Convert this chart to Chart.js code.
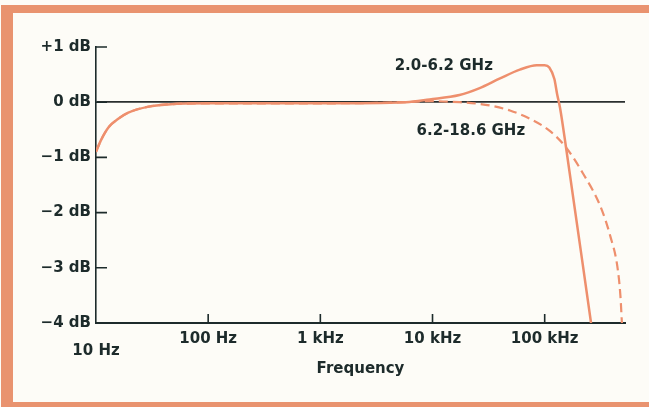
<!DOCTYPE html>
<html>
<head>
<meta charset="utf-8">
<title>Frequency response</title>
<script src="https://cdn.jsdelivr.net/npm/chart.js@4.4.1/dist/chart.umd.min.js"></script>
<style>
  html, body { margin: 0; padding: 0; background: #fdfcf7; overflow: hidden; }
  body { width: 649px; height: 407px; position: relative; }
  .frame {
    position: absolute; left: 1px; top: 5px; width: 700px; height: 389px;
    border-left: 12px solid #e9936f; border-top: 8px solid #e9936f; border-bottom: 5px solid #e9936f;
  }
  #chart { position: absolute; left: 0; top: 0; }
</style>
</head>
<body>
<div class="frame"></div>
<canvas id="chart" width="649" height="407"></canvas>
<script>
// ==================== DATA ====================
// frequency in Hz, gain in dB
const freqSolid = [10, 11, 13, 15.8, 19.4, 29.5, 44, 100, 1000, 5800, 9400, 17400, 26000, 40000, 60000, 85000, 100000, 110000, 122000, 129000, 137000, 155000, 259000];
const gainSolid = [-0.9, -0.7, -0.45, -0.3, -0.19, -0.08, -0.04, -0.02, -0.02, 0, 0.05, 0.13, 0.25, 0.43, 0.59, 0.67, 0.67, 0.63, 0.42, 0.15, -0.1, -0.82, -4];

const freqDashed = [10, 11, 13, 15.8, 19.4, 29.5, 44, 100, 1000, 5800, 9400, 17400, 26000, 32600, 49000, 74000, 111000, 155000, 221000, 313000, 385000, 444000, 473000, 488000];
const gainDashed = [-0.9, -0.7, -0.45, -0.3, -0.19, -0.08, -0.04, -0.02, -0.02, 0, 0.02, 0, -0.03, -0.06, -0.15, -0.3, -0.52, -0.82, -1.3, -1.88, -2.43, -2.97, -3.5, -4];

const seriesNames = ['2.0-6.2 GHz', '6.2-18.6 GHz'];

const xTicks = [10, 100, 1000, 10000, 100000];
const xTickLabels = ['10 Hz', '100 Hz', '1 kHz', '10 kHz', '100 kHz'];
const yTicks = [1, 0, -1, -2, -3, -4];
const yTickLabels = ['+1 dB', '0 dB', '\u22121 dB', '\u22122 dB', '\u22123 dB', '\u22124 dB'];

const ink = '#1d2b2b';
const curve = '#ee8f6d';
const labelFont = { family: '"DejaVu Sans", sans-serif', size: 15, weight: 'bold' };

// inner tick marks + curve labels
const decorations = {
  id: 'decorations',
  afterDraw(chart) {
    const { ctx, chartArea, scales } = chart;
    const x = scales.x, y = scales.y;
    ctx.save();
    ctx.strokeStyle = ink;
    ctx.lineWidth = 1.6;
    ctx.beginPath();
    yTicks.forEach(v => {
      if (v === -4) return;
      const py = y.getPixelForValue(v);
      ctx.moveTo(chartArea.left, py);
      ctx.lineTo(chartArea.left + 11, py);
    });
    xTicks.forEach(v => {
      if (v === 10) return;
      const px = x.getPixelForValue(v);
      ctx.moveTo(px, chartArea.bottom);
      ctx.lineTo(px, chartArea.bottom - 9);
    });
    ctx.stroke();

    // curve labels
    ctx.fillStyle = ink;
    ctx.font = 'bold 15px "DejaVu Sans", sans-serif';
    ctx.textAlign = 'left';
    ctx.textBaseline = 'middle';
    ctx.fillText(seriesNames[0], x.getPixelForValue(4600), y.getPixelForValue(0.65));
    ctx.fillText(seriesNames[1], x.getPixelForValue(7200), y.getPixelForValue(-0.53));
    ctx.restore();
  }
};

new Chart(document.getElementById('chart'), {
  type: 'line',
  data: {
    datasets: [
      {
        label: seriesNames[0],
        data: freqSolid.map((f, i) => ({ x: f, y: gainSolid[i] })),
        borderColor: curve,
        borderWidth: 2.5,
        pointRadius: 0,
        cubicInterpolationMode: 'monotone',
        fill: false
      },
      {
        label: seriesNames[1],
        data: freqDashed.map((f, i) => ({ x: f, y: gainDashed[i] })),
        borderColor: curve,
        borderWidth: 2.2,
        borderDash: [9, 5],
        pointRadius: 0,
        cubicInterpolationMode: 'monotone',
        fill: false
      }
    ]
  },
  options: {
    responsive: false,
    animation: false,
    devicePixelRatio: 1,
    layout: { padding: { left: 0, top: 47, right: 24, bottom: 29 } },
    plugins: { legend: { display: false }, tooltip: { enabled: false } },
    scales: {
      x: {
        type: 'logarithmic',
        min: 10,
        max: 520000,
        afterBuildTicks: s => { s.ticks = xTicks.map(v => ({ value: v })); },
        afterFit: s => { s.height = 55; },
        grid: { display: false },
        border: { display: true, color: ink, width: 2 },
        ticks: {
          color: ink,
          font: { ...labelFont, lineHeight: 0.82 },
          padding: 2,
          maxRotation: 0,
          autoSkip: false,
          callback: (v) => {
            const i = xTicks.indexOf(v);
            if (i < 0) return '';
            return v === 10 ? ['', xTickLabels[i]] : xTickLabels[i];
          }
        },
        title: { display: true, text: 'Frequency', color: ink, font: labelFont, padding: { top: 4, bottom: 0 } }
      },
      y: {
        min: -4,
        max: 1,
        afterBuildTicks: s => { s.ticks = yTicks.map(v => ({ value: v })); },
        afterFit: s => { s.width = 96; },
        grid: {
          drawTicks: false,
          color: c => c.tick && c.tick.value === 0 ? '#2a2f2f' : 'rgba(0,0,0,0)',
          lineWidth: 1.8
        },
        border: { display: true, color: ink, width: 1.6 },
        ticks: {
          color: ink,
          font: labelFont,
          padding: 5,
          callback: (v) => {
            const i = yTicks.indexOf(v);
            return i < 0 ? '' : yTickLabels[i];
          }
        }
      }
    }
  },
  plugins: [decorations]
});
</script>
</body>
</html>
